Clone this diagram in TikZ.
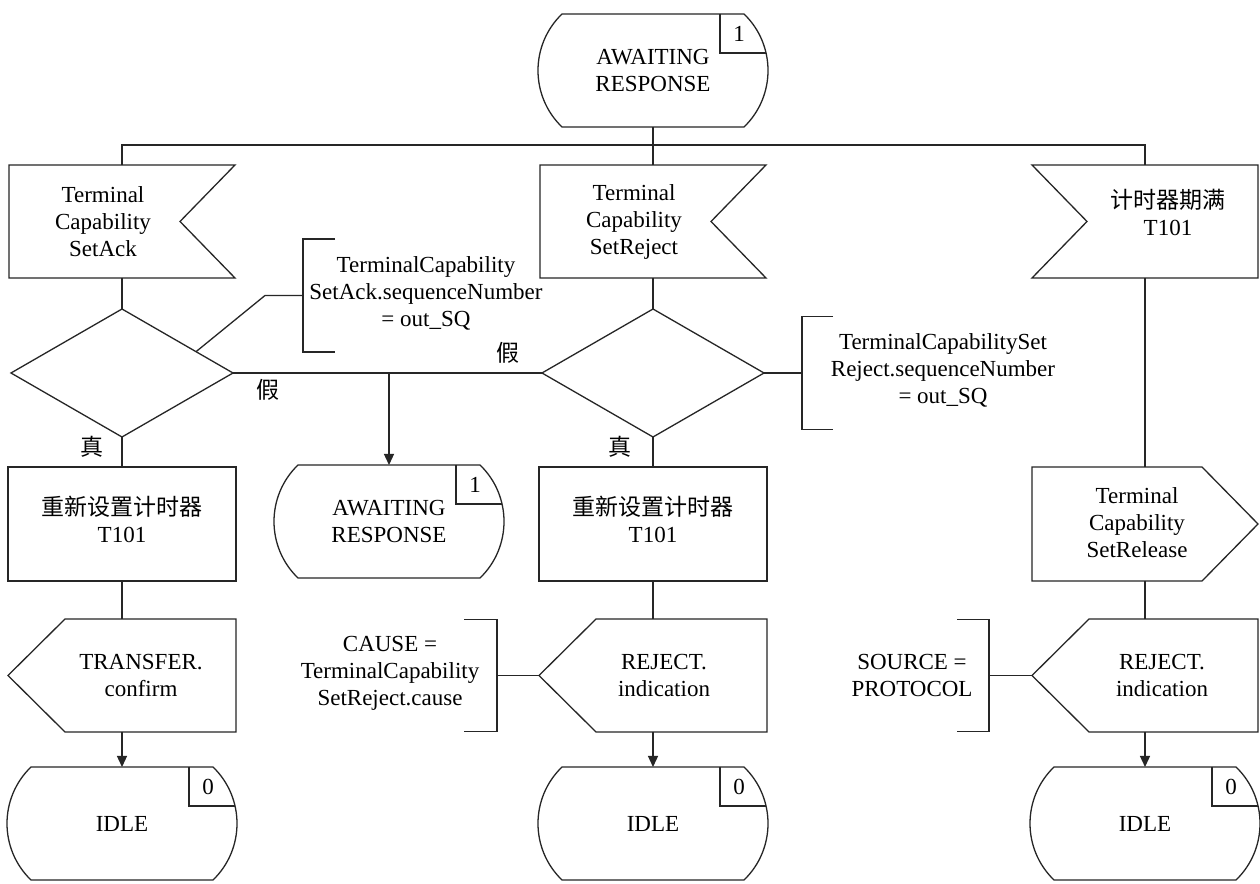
\documentclass[tikz,border=0pt]{standalone}
\usepackage{fontspec}
\setmainfont{Liberation Serif}
\newfontfamily\cjk{Noto Sans CJK SC}
\usetikzlibrary{arrows.meta,shapes.geometric,calc}
\begin{document}
\begin{tikzpicture}[x=1pt,y=1pt,
  line/.style={draw=black!85, line width=1.3pt},
  body/.style={draw=none, inner sep=0pt, outer sep=0pt, align=center, font=\fontsize{23}{27}\selectfont},
  txt/.style={inner sep=0pt, align=center, font=\fontsize{23}{27}\selectfont},
  numtxt/.style={inner sep=0pt, font=\fontsize{23}{27}\selectfont},
  statebody/.style={body, minimum width=182pt, minimum height=113pt},
  dec/.style={diamond, line, minimum width=222pt, minimum height=128pt, inner sep=0pt, outer sep=0pt},
  arr/.style={line, -{Triangle[width=10pt,length=11pt]}}
]
\fill[white] (0,0) rectangle (1260,883);
\useasboundingbox (0,0) rectangle (1260,883);

% ---- states ----
\node[statebody] (s0) at (653,812.5) {AWAITING\\RESPONSE};
\node[statebody] (s1) at (389,361.5) {AWAITING\\RESPONSE};
\node[statebody] (z1) at (122,59.5) {IDLE};
\node[statebody] (z2) at (653,59.5) {IDLE};
\node[statebody] (z3) at (1145,59.5) {IDLE};
\foreach \n in {s0,s1,z1,z2,z3}{
  \draw[line] (\n.north west) .. controls +(-32,-30.8) and +(-32,30.8) .. (\n.south west)
     -- (\n.south east) .. controls +(32,30.8) and +(32,-30.8) .. (\n.north east) -- cycle;
  \draw[line] ([xshift=-24pt]\n.north east) -- ++(0,-39) -- ++(46,0);
}
\node[numtxt] (s0n) at ([xshift=-5pt,yshift=-19.5pt]s0.north east) {1};
\node[numtxt] (s1n) at ([xshift=-5pt,yshift=-19.5pt]s1.north east) {1};
\node[numtxt] (z1n) at ([xshift=-5pt,yshift=-19.5pt]z1.north east) {0};
\node[numtxt] (z2n) at ([xshift=-5pt,yshift=-19.5pt]z2.north east) {0};
\node[numtxt] (z3n) at ([xshift=-5pt,yshift=-19.5pt]z3.north east) {0};

% ---- signal inputs ----
\node[body, minimum width=226pt, minimum height=113pt] (i1) at (122,661.5) {};
\node[body, minimum width=226pt, minimum height=113pt] (i2) at (653,661.5) {};
\node[body, minimum width=226pt, minimum height=113pt] (i3) at (1145,661.5) {};
\draw[line] (i1.north west) -- (i1.north east) -- ([xshift=-55pt]i1.east) -- (i1.south east) -- (i1.south west) -- cycle;
\draw[line] (i2.north west) -- (i2.north east) -- ([xshift=-55pt]i2.east) -- (i2.south east) -- (i2.south west) -- cycle;
\draw[line] (i3.north west) -- (i3.north east) -- (i3.south east) -- (i3.south west) -- ([xshift=55pt]i3.west) -- cycle;
\node[txt] (i1t) at (103,661) {Terminal\\Capability\\SetAck};
\node[txt] (i2t) at (634,661) {Terminal\\Capability\\SetReject};
\node[txt] (i3t) at (1168,671) {{\cjk 计时器期满}\\T101};

% ---- decisions ----
\node[dec] (d1) at (122,510) {};
\node[dec] (d2) at (653,510) {};

% ---- tasks ----
\node[body, line, minimum width=228pt, minimum height=114pt] (t1) at (122,359) {};
\node[body, line, minimum width=228pt, minimum height=114pt] (t2) at (653,359) {};
\node[txt] (t1t) at (122,364) {{\cjk 重新设置计时器}\\T101};
\node[txt] (t2t) at (653,364) {{\cjk 重新设置计时器}\\T101};

% ---- signal output (release) ----
\node[body, minimum width=226pt, minimum height=114pt] (r3) at (1145,359) {};
\draw[line] (r3.north west) -- ([xshift=-56pt]r3.north east) -- (r3.east) -- ([xshift=-56pt]r3.south east) -- (r3.south west) -- cycle;
\node[txt] (r3t) at (1137,360) {Terminal\\Capability\\SetRelease};

% ---- outputs ----
\node[body, minimum width=228pt, minimum height=113pt] (o1) at (122,207.5) {};
\node[body, minimum width=228pt, minimum height=113pt] (o2) at (653,207.5) {};
\node[body, minimum width=226pt, minimum height=113pt] (o3) at (1145,207.5) {};
\foreach \n in {o1,o2,o3}{
  \draw[line] (\n.west) -- ([xshift=57pt]\n.north west) -- (\n.north east) -- (\n.south east) -- ([xshift=57pt]\n.south west) -- cycle;
}
\node[txt] (o1t) at (141,207) {TRANSFER.\\confirm};
\node[txt] (o2t) at (664,207) {REJECT.\\indication};
\node[txt] (o3t) at (1162,207) {REJECT.\\indication};

% ---- comments ----
\node[body, minimum width=32pt, minimum height=113pt] (br1) at (319,587.5) {};
\node[body, minimum width=31pt, minimum height=113pt] (br2) at (817.5,510) {};
\node[body, minimum width=33pt, minimum height=112pt] (br3) at (480.5,207.5) {};
\node[body, minimum width=32pt, minimum height=112pt] (br4) at (973,207.5) {};
\draw[line] (br1.north east) -- (br1.north west) -- (br1.south west) -- (br1.south east);
\draw[line] (br2.north east) -- (br2.north west) -- (br2.south west) -- (br2.south east);
\draw[line] (br3.north west) -- (br3.north east) -- (br3.south east) -- (br3.south west);
\draw[line] (br4.north west) -- (br4.north east) -- (br4.south east) -- (br4.south west);
\node[txt] (cm1) at (426,590) {TerminalCapability\\SetAck.sequenceNumber\\= out\_SQ};
\node[txt] (cm2) at (943,513) {TerminalCapabilitySet\\Reject.sequenceNumber\\= out\_SQ};
\node[txt] (cm3) at (390,210) {CAUSE =\\TerminalCapability\\SetReject.cause};
\node[txt] (cm4) at (912,207) {SOURCE =\\PROTOCOL};

% ---- labels ----
\node[txt] (f1) at (268,493) {\cjk 假};
\node[txt] (f2) at (508,530) {\cjk 假};
\node[txt] (y1) at (92,436) {\cjk 真};
\node[txt] (y2) at (620,436) {\cjk 真};

% ---- connectors ----
\coordinate (bus) at (653,738);
\draw[line] (s0.south) -- (i2.north);
\draw[line] (i1.north) |- (bus) -| (i3.north);
\draw[line] (i1.south) -- (d1.north);
\draw[line] (i2.south) -- (d2.north);
\draw[line] (d1.south) -- (t1.north);
\draw[line] (d2.south) -- (t2.north);
\draw[line] (t1.south) -- (o1.north);
\draw[line] (t2.south) -- (o2.north);
\draw[arr] (o1.south) -- (z1.north);
\draw[arr] (o2.south) -- (z2.north);
\draw[line] (d1.east) -- (d2.west);
\coordinate (j) at (s1.north |- d1.east);
\draw[arr] (j) -- (s1.north);
\draw[line] (i3.south) -- (r3.north);
\draw[line] (r3.south) -- (o3.north);
\draw[arr] (o3.south) -- (z3.north);
\coordinate (d1e) at ($(d1.north)!0.667!(d1.east)$);
\draw[line] (br1.west) -- ++(-38,0) -- (d1e);
\draw[line] (d2.east) -- (br2.west);
\draw[line] (br3.east) -- (o2.west);
\draw[line] (br4.east) -- (o3.west);
\end{tikzpicture}
\end{document}
